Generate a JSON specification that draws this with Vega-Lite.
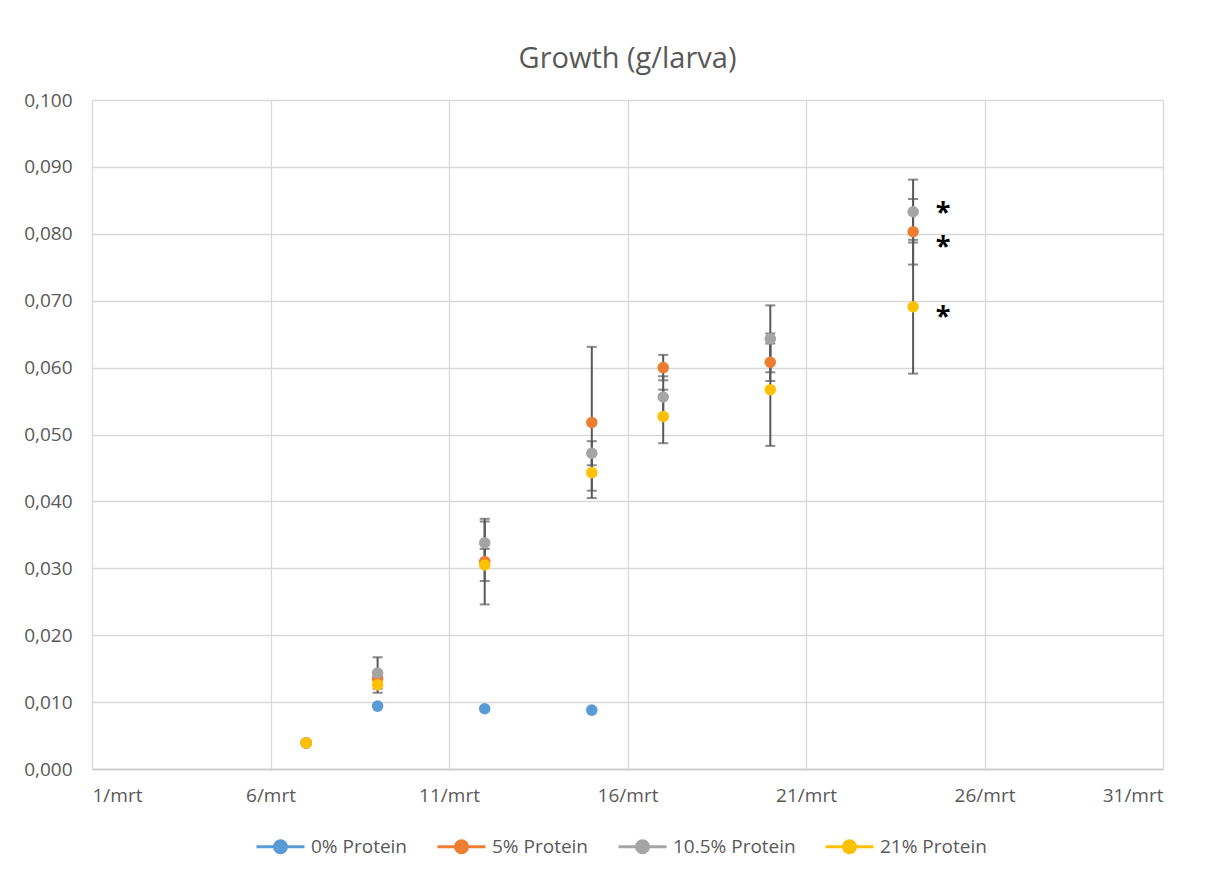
{
  "$schema": "https://vega.github.io/schema/vega-lite/v6.json",
  "autosize": {"type": "none"},
  "width": 1071,
  "height": 669,
  "padding": {"left": 92, "top": 100, "right": 54, "bottom": 106},
  "background": "white",
  "config": {
    "font": "Open Sans",
    "view": {"stroke": null},
    "axis": {"labelFont": "Open Sans", "labelColor": "#595959", "labelFontSize": 19, "gridColor": "#d9d9d9", "gridWidth": 1.3, "ticks": false, "title": null}
  },
  "title": {"text": "Growth (g/larva)", "fontSize": 29, "fontWeight": "normal", "color": "#595959", "font": "Open Sans", "anchor": "middle", "offset": 17},
  "datasets": {
    "growth": [
      {"series": "0% Protein", "day": 7, "value": 0.0039},
      {"series": "0% Protein", "day": 9, "value": 0.0094},
      {"series": "0% Protein", "day": 12, "value": 0.0090},
      {"series": "0% Protein", "day": 15, "value": 0.0088},
      {"series": "5% Protein", "day": 7, "value": 0.0039},
      {"series": "5% Protein", "day": 9, "value": 0.0135, "lo": 0.0125, "hi": 0.0145},
      {"series": "5% Protein", "day": 12, "value": 0.0310, "lo": 0.0246, "hi": 0.0374},
      {"series": "5% Protein", "day": 15, "value": 0.0518, "lo": 0.0405, "hi": 0.0631},
      {"series": "5% Protein", "day": 17, "value": 0.0600, "lo": 0.0581, "hi": 0.0619},
      {"series": "5% Protein", "day": 20, "value": 0.0608, "lo": 0.0580, "hi": 0.0636},
      {"series": "5% Protein", "day": 24, "value": 0.0803, "lo": 0.0754, "hi": 0.0852},
      {"series": "10.5% Protein", "day": 7, "value": 0.0039},
      {"series": "10.5% Protein", "day": 9, "value": 0.01435, "lo": 0.0120, "hi": 0.0167},
      {"series": "10.5% Protein", "day": 12, "value": 0.0338, "lo": 0.0306, "hi": 0.0370},
      {"series": "10.5% Protein", "day": 15, "value": 0.0472, "lo": 0.0454, "hi": 0.0490},
      {"series": "10.5% Protein", "day": 17, "value": 0.0556, "lo": 0.0525, "hi": 0.0587},
      {"series": "10.5% Protein", "day": 20, "value": 0.0643, "lo": 0.0593, "hi": 0.0693},
      {"series": "10.5% Protein", "day": 24, "value": 0.0833, "lo": 0.0787, "hi": 0.0881},
      {"series": "21% Protein", "day": 7, "value": 0.0039},
      {"series": "21% Protein", "day": 9, "value": 0.0126, "lo": 0.0114, "hi": 0.0138},
      {"series": "21% Protein", "day": 12, "value": 0.0305, "lo": 0.0281, "hi": 0.0329},
      {"series": "21% Protein", "day": 15, "value": 0.0443, "lo": 0.0416, "hi": 0.0470},
      {"series": "21% Protein", "day": 17, "value": 0.0527, "lo": 0.0487, "hi": 0.0567},
      {"series": "21% Protein", "day": 20, "value": 0.0567, "lo": 0.0483, "hi": 0.0651},
      {"series": "21% Protein", "day": 24, "value": 0.0691, "lo": 0.0591, "hi": 0.0791}
    ],
    "stars": [
      {"day": 24, "value": 0.0842, "label": "*"},
      {"day": 24, "value": 0.0790, "label": "*"},
      {"day": 24, "value": 0.0686, "label": "*"}
    ]
  },
  "layer": [
    {
      "data": {"name": "growth"},
      "transform": [{"filter": "isValid(datum.lo)"}],
      "mark": {"type": "errorbar", "color": "#595959", "thickness": 2, "ticks": {"size": 10}},
      "encoding": {
        "x": {"field": "day", "type": "quantitative", "title": null, "scale": {"domain": [1, 31], "nice": false, "zero": false},
              "axis": {"title": null, "values": [1, 6, 11, 16, 21, 26, 31], "labelExpr": "datum.value + '/mrt'", "labelPadding": 17, "domain": true, "domainColor": "#c8c8c8", "domainWidth": 1.5}},
        "y": {"field": "lo", "type": "quantitative", "title": null, "scale": {"domain": [0, 0.1], "nice": false},
              "axis": {"title": null, "values": [0, 0.01, 0.02, 0.03, 0.04, 0.05, 0.06, 0.07, 0.08, 0.09, 0.1], "labelExpr": "replace(format(datum.value, '.3f'), '.', ',')", "labelPadding": 20, "domain": false}},
        "y2": {"field": "hi"}
      }
    },
    {
      "data": {"name": "growth"},
      "mark": {"type": "point", "filled": true, "size": 133, "opacity": 1},
      "encoding": {
        "x": {"field": "day", "type": "quantitative", "title": null},
        "y": {"field": "value", "type": "quantitative", "title": null},
        "color": {
          "field": "series", "type": "nominal",
          "scale": {"domain": ["0% Protein", "5% Protein", "10.5% Protein", "21% Protein"], "range": ["#5B9BD5", "#ED7D31", "#A5A5A5", "#FFC000"]},
          "legend": {
            "title": null, "orient": "none", "direction": "horizontal", "legendX": 163, "legendY": 721,
            "padding": 0, "columnPadding": 23, "labelOffset": 5,
            "labelFont": "Open Sans", "labelFontSize": 19, "labelColor": "#595959",
            "symbolType": "M-1,0L1,0M0.25,0A0.25,0.25,0,1,1,-0.25,0A0.25,0.25,0,1,1,0.25,0Z",
            "symbolSize": 2304, "symbolStrokeWidth": 3, "symbolOpacity": 1,
            "encode": {"symbols": {"update": {"stroke": {"scale": "color", "field": "value"}, "fill": {"scale": "color", "field": "value"}}}}
          }
        }
      }
    },
    {
      "data": {"name": "stars"},
      "mark": {"type": "text", "font": "Open Sans", "fontSize": 27, "fontWeight": "bold", "color": "#000000", "align": "center", "baseline": "alphabetic", "dx": 30, "dy": 15},
      "encoding": {
        "x": {"field": "day", "type": "quantitative"},
        "y": {"field": "value", "type": "quantitative"},
        "text": {"field": "label"}
      }
    }
  ]
}
